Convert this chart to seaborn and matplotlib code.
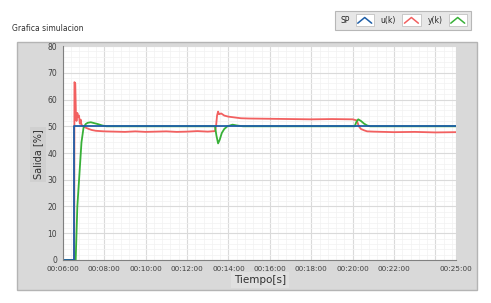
import numpy as np
import pandas as pd
import matplotlib
matplotlib.use("Agg")
import matplotlib.pyplot as plt
import seaborn as sns
from matplotlib.patches import FancyBboxPatch, Rectangle
from matplotlib.ticker import FuncFormatter, MultipleLocator, FixedLocator
from matplotlib.lines import Line2D
from matplotlib.legend_handler import HandlerBase

# Time in minutes, values in %
sp_t = [6.0, 6.53, 6.53, 25.0]
sp_v = [0, 0, 50, 50]

u_t = [6.0, 6.55, 6.56, 6.6, 6.63, 6.66, 6.7, 6.74, 6.78, 6.82, 6.86, 6.9, 7.0, 7.1,
       7.25, 7.4, 7.6, 7.8, 8.0, 8.5, 9.0, 9.5, 10.0, 10.5, 11.0, 11.5, 12.0, 12.5,
       13.0, 13.35, 13.4, 13.45, 13.5, 13.55, 13.65, 13.8, 14.0, 14.3, 14.6, 15.0,
       16.0, 17.0, 18.0, 19.0, 20.0, 20.2, 20.3, 20.4, 20.55, 20.7, 21.0, 22.0,
       23.0, 24.0, 25.0]
u_v = [0, 0, 66.5, 66, 55, 52, 55, 53.5, 54, 51, 52.5, 50.5, 50, 49.5,
       49, 48.6, 48.3, 48.2, 48.1, 48.0, 47.9, 48.1, 47.9, 48.0, 48.1, 47.9, 48.0, 48.2,
       48.0, 48.2, 50, 54, 55.5, 54.5, 54.8, 54, 53.6, 53.3, 53.0, 52.9,
       52.8, 52.7, 52.6, 52.7, 52.6, 52.2, 50, 49, 48.5, 48.1, 48.0, 47.8,
       47.9, 47.7, 47.8]

y_t = [6.0, 6.62, 6.7, 6.8, 6.9, 7.0, 7.1, 7.2, 7.35, 7.5, 7.7, 7.9, 8.1,
       13.35, 13.42, 13.5, 13.58, 13.68, 13.8, 13.95, 14.2, 14.4, 14.7,
       20.1, 20.18, 20.27, 20.4, 20.55, 20.7, 20.85, 25.0]
y_v = [0, 0, 20, 32, 44, 49.5, 50.8, 51.3, 51.5, 51.2, 50.8, 50.3, 50.0,
       50.0, 46.5, 43.6, 45.0, 47.5, 49.0, 50.0, 50.6, 50.3, 50.0,
       50.0, 51.6, 52.6, 52.0, 51.0, 50.3, 50.0, 50.0]

labels = ["SP", "u(k)", "y(k)"]
colors = ["#1f5fa8", "#f26060", "#38b038"]

df = pd.concat([
    pd.DataFrame({"t": sp_t, "v": sp_v, "serie": "SP"}),
    pd.DataFrame({"t": u_t, "v": u_v, "serie": "u(k)"}),
    pd.DataFrame({"t": y_t, "v": y_v, "serie": "y(k)"}),
])


# legend icon: white box with a small caret, like the LabVIEW plot legend
class CaretHandler(HandlerBase):
    def create_artists(self, legend, orig_handle, xdescent, ydescent,
                       width, height, fontsize, trans):
        x0, y0 = -xdescent, -ydescent
        box = Rectangle((x0, y0 - 2), width, height + 4, facecolor="white",
                        edgecolor="#b8b8b8", linewidth=0.5, transform=trans)
        caret = Line2D([x0 + 0.12 * width, x0 + 0.5 * width, x0 + 0.88 * width],
                       [y0 + 0.05 * height, y0 + 0.95 * height, y0 + 0.05 * height],
                       color=orig_handle.get_color(), linewidth=1.1, transform=trans)
        return [box, caret]


sns.set_style("white")
fig = plt.figure(figsize=(4.91, 3.03), dpi=100)

# gray panel behind the plot
panel = FancyBboxPatch((0.035, 0.043), 0.937, 0.818, boxstyle="square,pad=0",
                       transform=fig.transFigure, facecolor="#d9d9d9",
                       edgecolor="#b4b4b4", linewidth=1.0, zorder=-5)
fig.patches.append(panel)

ax = fig.add_axes([0.128, 0.142, 0.801, 0.706])
ax.set_zorder(2)
ax.set_facecolor("white")

# draw u(k) and y(k) first, SP on top
for lab in ["u(k)", "y(k)", "SP"]:
    sub = df[df["serie"] == lab]
    sns.lineplot(data=sub, x="t", y="v", ax=ax, color=colors[labels.index(lab)],
                 linewidth=1.3, estimator=None, sort=False, legend=False)

ax.set_xlim(6, 25)
ax.set_ylim(0, 80)

ax.xaxis.set_major_locator(FixedLocator([6, 8, 10, 12, 14, 16, 18, 20, 22, 24, 25]))
ax.xaxis.set_minor_locator(MultipleLocator(0.4))
ax.yaxis.set_major_locator(MultipleLocator(10))
ax.yaxis.set_minor_locator(MultipleLocator(2))

def fmt_time(x, pos):
    if abs(x - 24) < 1e-6:
        return ""
    m = int(round(x * 60)) // 60
    s = int(round(x * 60)) % 60
    return "00:%02d:%02d" % (m, s)

ax.xaxis.set_major_formatter(FuncFormatter(fmt_time))

ax.grid(which="major", color="#dadada", linewidth=0.8)
ax.grid(which="minor", color="#f1f1f1", linewidth=0.5)
ax.set_axisbelow(True)

for side in ["top", "right"]:
    ax.spines[side].set_visible(False)
for side in ["left", "bottom"]:
    ax.spines[side].set_color("#808080")
    ax.spines[side].set_linewidth(0.8)

ax.tick_params(axis="both", which="major", labelsize=5.5, colors="#404040",
               length=2.5, width=0.6, direction="out", pad=1.5)
ax.tick_params(axis="both", which="minor", length=0)
ax.tick_params(axis="x", labelsize=5.2)

ax.set_xlabel("")
ax.set_ylabel("")
fig.text(0.077, 0.49, "Salida [%]", rotation=90, ha="center", va="center",
         fontsize=7, color="#303030",
         bbox=dict(boxstyle="square,pad=0.3", facecolor="#d0d0d0", edgecolor="none"))
fig.text(0.53, 0.075, "Tiempo[s]", ha="center", va="center", fontsize=7.5,
         color="#303030",
         bbox=dict(boxstyle="square,pad=0.3", facecolor="#e0e0e0", edgecolor="none"))

fig.text(0.024, 0.905, "Grafica simulacion", ha="left", va="center",
         fontsize=5.5, color="#303030")

handles = [Line2D([], [], color=c, linewidth=1.3) for c in colors]
leg = fig.legend(handles, labels, loc="upper right", bbox_to_anchor=(0.968, 0.975),
                 ncol=3, markerfirst=False, fontsize=5.5, frameon=True,
                 handlelength=2.4, handleheight=0.9, handletextpad=0.8,
                 columnspacing=0.9, borderpad=0.6, fancybox=False,
                 handler_map={Line2D: CaretHandler()})
leg.get_frame().set_facecolor("#e2e2e2")
leg.get_frame().set_edgecolor("#a8a8a8")
leg.get_frame().set_linewidth(0.8)

fig.savefig("out.png", dpi=100)
